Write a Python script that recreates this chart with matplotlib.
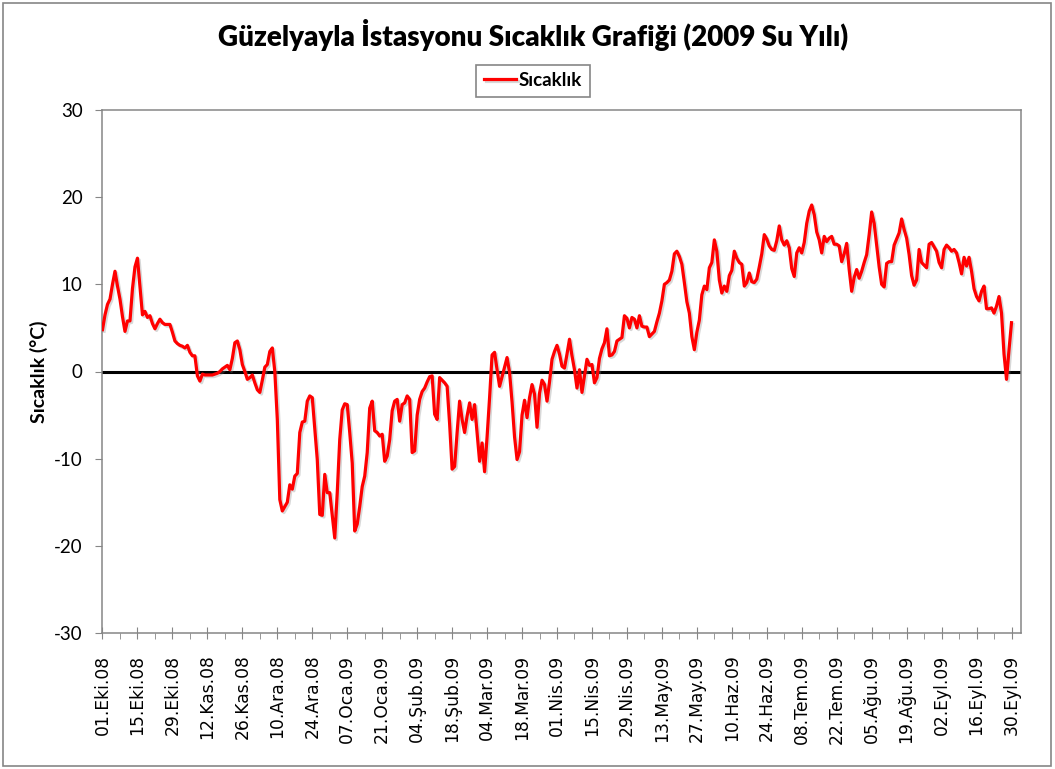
import numpy as np
import matplotlib
matplotlib.use("Agg")
import matplotlib.pyplot as plt
import matplotlib.patheffects as pe
from matplotlib.ticker import MultipleLocator

plt.rcParams["axes.unicode_minus"] = False

# daily mean temperature, 01.10.2008 - 30.09.2009
temps = [
    4.8, 6.5, 7.7, 8.3, 10.0, 11.5, 9.8, 8.3, 6.3, 4.6, 5.8, 5.8, 9.5, 12.0,
    13.0, 9.8, 6.5, 6.9, 6.2, 6.4, 5.5, 4.9, 5.5, 6.0, 5.6, 5.4, 5.4, 5.4,
    4.5, 3.5, 3.2, 3.0, 2.9, 2.7, 3.0, 2.2, 1.8, 1.8, -0.5, -1.1, -0.3, -0.4,
    -0.4, -0.4, -0.4, -0.3, -0.2, 0.0, 0.3, 0.5, 0.7, 0.2, 1.5, 3.3, 3.5, 2.5,
    0.8, 0.0, -0.9, -0.7, -0.4, -1.3, -2.1, -2.4, -1.0, 0.5, 0.8, 2.3, 2.7, 0.0,
    -5.5, -14.7, -16.0, -15.5, -15.0, -13.0, -13.5, -12.0, -11.7, -7.0, -5.8, -5.7, -3.4, -2.8,
    -3.0, -6.5, -10.1, -16.4, -16.5, -11.8, -13.9, -13.9, -16.5, -19.1, -13.9, -7.8, -4.4, -3.7,
    -3.8, -7.0, -10.5, -18.3, -17.5, -15.5, -13.2, -12.0, -9.3, -4.2, -3.4, -6.8, -7.0, -7.4,
    -7.2, -10.3, -9.7, -7.8, -4.5, -3.4, -3.2, -5.7, -3.8, -3.6, -2.8, -3.2, -9.3, -9.1,
    -5.0, -3.2, -2.3, -1.9, -1.2, -0.6, -0.5, -4.9, -5.5, -0.7, -1.0, -1.3, -1.7, -6.0,
    -11.2, -10.9, -7.0, -3.4, -5.5, -7.0, -5.1, -3.6, -5.5, -3.8, -7.0, -10.3, -8.2, -11.5,
    -7.5, -3.0, 1.9, 2.2, 0.2, -1.7, -0.6, 0.5, 1.6, -0.1, -3.5, -7.5, -10.1, -9.2,
    -5.0, -3.3, -5.3, -3.0, -1.5, -2.6, -6.4, -2.5, -1.0, -1.5, -3.4, -1.2, 1.4, 2.3,
    3.0, 2.0, 0.6, 0.4, 2.0, 3.7, 1.8, 0.2, -1.9, 0.2, -2.4, -0.5, 1.4, 0.7,
    0.8, -1.3, -0.7, 1.5, 2.6, 3.3, 4.9, 1.8, 1.9, 2.3, 3.5, 3.7, 3.9, 6.4,
    6.1, 5.0, 6.2, 6.0, 5.0, 6.4, 5.2, 5.1, 5.1, 4.0, 4.3, 4.6, 5.7, 6.7,
    8.1, 10.0, 10.2, 10.5, 11.5, 13.5, 13.8, 13.2, 12.3, 10.2, 8.0, 6.7, 4.0, 2.5,
    4.5, 5.9, 8.8, 9.8, 9.4, 11.9, 12.5, 15.1, 13.8, 10.5, 9.0, 9.8, 9.2, 11.0,
    11.6, 13.8, 13.0, 12.5, 12.3, 9.8, 10.2, 11.3, 10.3, 10.2, 10.6, 12.0, 13.5, 15.7,
    15.2, 14.4, 14.0, 13.9, 15.0, 16.7, 15.1, 14.5, 15.0, 14.2, 11.8, 10.9, 13.6, 14.2,
    13.6, 14.8, 17.0, 18.4, 19.1, 18.0, 16.0, 15.1, 13.6, 15.5, 14.9, 15.3, 15.5, 14.6,
    14.6, 14.4, 12.6, 13.5, 14.7, 11.7, 9.2, 10.8, 11.7, 10.7, 11.5, 12.5, 13.4, 15.7,
    18.3, 17.0, 14.5, 12.0, 10.0, 9.7, 12.4, 12.6, 12.6, 14.5, 15.2, 15.9, 17.5, 16.3,
    15.3, 13.4, 11.0, 9.9, 10.5, 14.0, 12.5, 12.2, 11.9, 14.6, 14.8, 14.3, 13.8, 12.5,
    11.9, 14.0, 14.5, 14.2, 13.8, 14.0, 13.6, 12.5, 11.2, 13.1, 12.1, 13.1, 11.5, 9.5,
    8.6, 8.1, 9.2, 9.8, 7.2, 7.2, 7.3, 6.7, 7.5, 8.6, 6.7, 2.0, -0.9, 2.5,
    5.6,
]

# one label every 14 days
tick_labels = [
    "01.Eki.08", "15.Eki.08", "29.Eki.08", "12.Kas.08", "26.Kas.08", "10.Ara.08",
    "24.Ara.08", "07.Oca.09", "21.Oca.09", "04.Şub.09", "18.Şub.09", "04.Mar.09",
    "18.Mar.09", "01.Nis.09", "15.Nis.09", "29.Nis.09", "13.May.09", "27.May.09",
    "10.Haz.09", "24.Haz.09", "08.Tem.09", "22.Tem.09", "05.Ağu.09", "19.Ağu.09",
    "02.Eyl.09", "16.Eyl.09", "30.Eyl.09",
]

title = "Güzelyayla İstasyonu Sıcaklık Grafiği (2009 Su Yılı)"
ylabel = "Sıcaklık (°C)"
series_name = "Sıcaklık"

grey = "#868686"
days = np.arange(len(temps))

fig = plt.figure(figsize=(10.55, 7.69), dpi=100)
fig.patches.append(plt.Rectangle((0.003, 0.004), 0.993, 0.992, transform=fig.transFigure,
                                 fill=False, edgecolor=grey, lw=1.2))
ax = fig.add_axes([102 / 1055, 1 - 633 / 769, (1021 - 102) / 1055, (633 - 110) / 769])

ax.axhline(0, color="black", lw=2.2, zorder=2)
ax.plot(days, temps, color="red", lw=2.3, zorder=3, label=series_name,
        path_effects=[pe.SimpleLineShadow(offset=(1.2, -1.2), shadow_color="gray", alpha=0.3),
                      pe.Normal()])

ax.set_xlim(-0.2, 367.8)
ax.set_ylim(-30, 30)
ax.yaxis.set_major_locator(MultipleLocator(10))
ax.set_xticks(days[::14])
ax.set_xticklabels(tick_labels, rotation=90, fontsize=12.3, family="DejaVu Sans")
ax.set_xticks(days[7::14], minor=True)

for s in ax.spines.values():
    s.set_color(grey)
    s.set_linewidth(1.1)

ax.tick_params(axis="y", direction="out", length=5, color=grey, labelsize=13.5, pad=9)
ax.tick_params(axis="x", which="major", direction="inout", length=9, color=grey, pad=11)
ax.tick_params(axis="x", which="minor", direction="out", length=4, color=grey)
for lab in ax.get_yticklabels():
    lab.set_family("Lato")

fig.text(0.505, 1 - 46 / 769, title, ha="center", va="baseline", fontsize=20,
         fontweight="heavy", family="Lato")
fig.text(39 / 1055, 1 - 372 / 769, ylabel, ha="center", va="center", rotation=90,
         fontsize=14, fontweight="bold", family="Lato")

leg = fig.legend(loc="center", bbox_to_anchor=(533 / 1055, 1 - 80.5 / 769), fancybox=False,
                 edgecolor=grey, framealpha=1, handlelength=1.7, handletextpad=0.15,
                 borderpad=0.4, prop={"family": "Lato", "weight": "bold", "size": 13.5})
leg.get_frame().set_linewidth(1.2)

fig.savefig("out.png", dpi=100)
